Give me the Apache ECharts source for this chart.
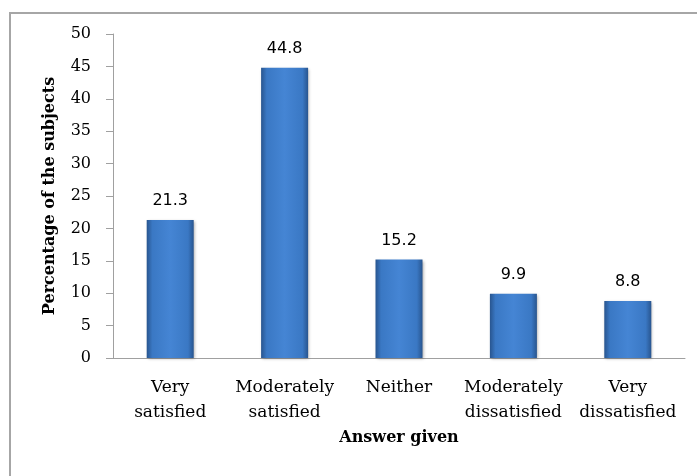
<!DOCTYPE html>
<html>
<head>
<meta charset="utf-8">
<script src="https://cdn.jsdelivr.net/npm/echarts@6/dist/echarts.min.js"></script>
<style>html,body{margin:0;padding:0;background:#fff}#c{width:697px;height:476px}</style>
</head>
<body>
<div id="c"></div>
<script>
const categories = ['Very\nsatisfied', 'Moderately\nsatisfied', 'Neither', 'Moderately\ndissatisfied', 'Very\ndissatisfied'];
const values = [21.3, 44.8, 15.2, 9.9, 8.8];
const yTicks = [0, 5, 10, 15, 20, 25, 30, 35, 40, 45, 50];

const chart = echarts.init(document.getElementById('c'), null, {renderer: 'canvas'});
const barGrad = new echarts.graphic.LinearGradient(0, 0, 1, 0, [
  {offset: 0, color: '#28558f'},
  {offset: 0.12, color: '#3a78c4'},
  {offset: 0.5, color: '#4585d4'},
  {offset: 0.88, color: '#3a78c4'},
  {offset: 1, color: '#28558f'}
]);
chart.setOption({
  animation: false,
  graphic: [{
    type: 'rect', left: 7.5, top: 10.5, silent: true, z: -1,
    shape: {x: 0, y: 0, width: 720, height: 500},
    style: {fill: 'none', stroke: '#a6a6a6', lineWidth: 2}
  }],
  grid: {left: 113, right: 12, top: 34, bottom: 118},
  xAxis: {
    type: 'category',
    data: categories,
    name: 'Answer given',
    nameLocation: 'middle',
    nameGap: 72,
    nameTextStyle: {fontFamily: 'DejaVu Serif', fontWeight: 'bold', fontSize: 16, color: '#000'},
    axisLine: {lineStyle: {color: '#a0a0a0', width: 1}},
    axisTick: {show: false},
    axisLabel: {fontFamily: 'DejaVu Serif', fontSize: 17, color: '#000', lineHeight: 25, margin: 17, interval: 0}
  },
  yAxis: {
    type: 'value',
    min: 0, max: 50, interval: 5,
    name: 'Percentage of the subjects',
    nameLocation: 'middle',
    nameGap: 55,
    nameTextStyle: {fontFamily: 'DejaVu Serif', fontWeight: 'bold', fontSize: 16, color: '#000'},
    axisLine: {show: true, lineStyle: {color: '#a0a0a0', width: 1}},
    axisTick: {show: true, length: 7, lineStyle: {color: '#a0a0a0'}},
    splitLine: {show: false},
    axisLabel: {fontFamily: 'DejaVu Serif', fontSize: 16, color: '#000', margin: 22,
      formatter: v => yTicks.includes(v) ? String(v) : ''}
  },
  series: [{
    type: 'bar',
    data: values,
    barWidth: 47,
    itemStyle: {color: barGrad, shadowBlur: 3, shadowColor: 'rgba(0,0,0,0.35)', shadowOffsetX: 1, shadowOffsetY: 1},
    label: {show: true, position: 'top', distance: 11, fontFamily: 'DejaVu Sans', fontSize: 16, color: '#000'}
  }]
});
</script>
</body>
</html>
